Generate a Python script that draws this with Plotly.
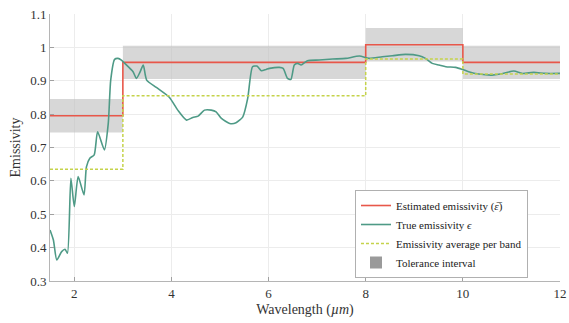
import plotly.graph_objects as go

# Band edges (wavelength, µm) and per-band values
band_edges = [1.5, 3, 8, 10, 12]
estimated = [0.795, 0.955, 1.008, 0.955]
band_average = [0.635, 0.855, 0.965, 0.92]
tolerance = 0.05

# True emissivity curve
true_x = [1.5, 1.57, 1.64, 1.74, 1.81, 1.86, 1.93, 2.0, 2.08, 2.2, 2.25, 2.32, 2.41,
          2.48, 2.62, 2.70, 2.75, 2.83, 2.90, 2.97, 3.04, 3.21, 3.28, 3.35, 3.42, 3.49,
          3.69, 3.96, 4.13, 4.31, 4.44, 4.55, 4.68, 4.82, 4.92, 5.03, 5.20, 5.33, 5.47,
          5.57, 5.67, 5.76, 5.85, 5.95, 6.02, 6.22, 6.30, 6.39, 6.46, 6.53, 6.60, 6.67,
          6.80, 7.04, 7.32, 7.59, 7.87, 8.07, 8.34, 8.55, 8.82, 9.10, 9.23, 9.37, 9.51,
          9.65, 9.85, 9.99, 10.12, 10.33, 10.60, 10.77, 11.05, 11.22, 11.46, 11.70, 12.0]
true_y = [0.453, 0.423, 0.363, 0.388, 0.395, 0.383, 0.608, 0.523, 0.613, 0.558, 0.642,
          0.668, 0.678, 0.747, 0.693, 0.773, 0.902, 0.964, 0.967, 0.962, 0.952, 0.927,
          0.907, 0.925, 0.947, 0.902, 0.880, 0.850, 0.812, 0.782, 0.790, 0.794, 0.812,
          0.812, 0.807, 0.787, 0.772, 0.774, 0.792, 0.847, 0.942, 0.944, 0.930, 0.934,
          0.937, 0.940, 0.937, 0.907, 0.904, 0.947, 0.952, 0.947, 0.960, 0.962, 0.965,
          0.967, 0.974, 0.967, 0.972, 0.975, 0.979, 0.975, 0.967, 0.952, 0.947, 0.942,
          0.940, 0.934, 0.927, 0.920, 0.917, 0.920, 0.929, 0.922, 0.925, 0.922, 0.922]

x_ticks = [2, 4, 6, 8, 10, 12]
y_ticks = [0.3, 0.4, 0.5, 0.6, 0.7, 0.8, 0.9, 1.0, 1.1]
y_tick_labels = ["0.3", "0.4", "0.5", "0.6", "0.7", "0.8", "0.9", "1", "1.1"]

RED = "#e8574a"
GREEN = "#4e9a86"
YELLOW = "#c5d34a"
BAND = "rgba(190,190,190,0.62)"
FONT = "Liberation Serif"

fig = go.Figure()

# Tolerance bands
for i, est in enumerate(estimated):
    x0, x1 = band_edges[i], band_edges[i + 1]
    fig.add_trace(go.Scatter(
        x=[x0, x1, x1, x0, x0],
        y=[est - tolerance, est - tolerance, est + tolerance, est + tolerance, est - tolerance],
        fill="toself", fillcolor=BAND, line=dict(width=0), mode="lines",
        showlegend=False, hoverinfo="skip"))

fig.add_trace(go.Scatter(
    x=band_edges, y=estimated + [estimated[-1]], mode="lines", line_shape="hv",
    line=dict(color=RED, width=1.6), name="Estimated emissivity (<i>ε̅</i>)"))

fig.add_trace(go.Scatter(
    x=true_x, y=true_y, mode="lines", line_shape="spline",
    line=dict(color=GREEN, width=1.6, smoothing=0.6), name="True emissivity <i>ϵ</i>"))

fig.add_trace(go.Scatter(
    x=band_edges, y=band_average + [band_average[-1]], mode="lines", line_shape="hv",
    line=dict(color=YELLOW, width=1.5, dash="3px,2px"), name="Emissivity average per band"))

fig.add_trace(go.Scatter(
    x=[None], y=[None], mode="markers",
    marker=dict(symbol="square", size=12, color="#9a9a9a"), name="Tolerance interval"))

axis_common = dict(
    showline=True, linecolor="#b5b5b5", linewidth=1, mirror=False,
    showgrid=True, gridcolor="#ececec", gridwidth=1,
    ticks="inside", ticklen=4, tickcolor="#a0a0a0", automargin=False,
    ticklabeloverflow="allow",
    tickfont=dict(family=FONT, size=13, color="#333333"), zeroline=False)

fig.update_xaxes(range=[1.5, 12], tickvals=x_ticks,
                 title=dict(text="Wavelength (<i>µm</i>)", standoff=4,
                            font=dict(family=FONT, size=14, color="#333333")),
                 **axis_common)
fig.update_yaxes(range=[0.3, 1.1], tickvals=y_ticks, ticktext=y_tick_labels,
                 title=dict(text="Emissivity", standoff=6,
                            font=dict(family=FONT, size=14, color="#333333")),
                 **axis_common)

fig.update_layout(
    width=569, height=323,
    margin=dict(l=50, r=9, t=14, b=42),
    plot_bgcolor="white", paper_bgcolor="white",
    font=dict(family=FONT, color="#333333"),
    legend=dict(x=0.598, y=0.176, xanchor="left", yanchor="middle",
                bgcolor="white", bordercolor="#b0b0b0", borderwidth=1,
                font=dict(family=FONT, size=11, color="#222222"),
                itemwidth=30, tracegroupgap=0),
    showlegend=True)

# Remove the browser's default body margin so the figure sits at the window origin.
fig.write_html("out.html", config={"displayModeBar": False},
               post_script="document.body.style.margin='0';")
